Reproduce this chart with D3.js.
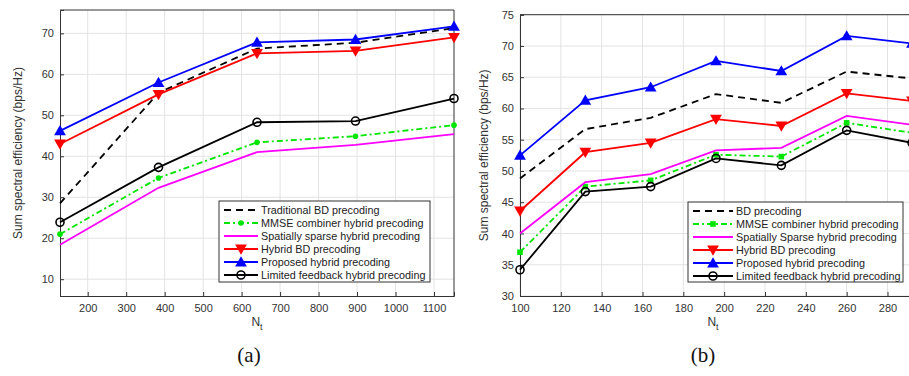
<!DOCTYPE html>
<html lang="en">
<head>
<meta charset="UTF-8">
<title>Sum spectral efficiency vs Nt</title>
<script src="https://cdnjs.cloudflare.com/ajax/libs/d3/7.8.5/d3.min.js"></script>
<style>
    body { margin: 0; background: #fff; }
    svg { display: block; font-family: "Liberation Sans", Arial, sans-serif; }
    .tick text { fill: #333; font-size: 11px; }
</style>
</head>
<body>
<svg id="chart" width="909" height="376"></svg>
<script>
// ---- panel (a) data ----
const ntA = [128, 384, 640, 896, 1152];
const tradBdA   = [28.5, 55.5, 66.3, 67.7, 71.3];
const mmseA     = [21.0, 34.7, 43.4, 44.9, 47.6];
const sparseA   = [18.4, 32.3, 41.0, 42.8, 45.4];
const hybridBdA = [43.0, 55.1, 65.1, 65.7, 69.0];
const proposedA = [46.2, 58.0, 67.8, 68.5, 71.7];
const limitedA  = [23.9, 37.3, 48.3, 48.6, 54.1];
const xTicksA = [200, 300, 400, 500, 600, 700, 800, 900, 1000, 1100];
const yTicksA = [10, 20, 30, 40, 50, 60, 70];

// ---- panel (b) data ----
const ntB = [100, 132, 164, 196, 228, 260, 292];
const bdB       = [48.8, 56.7, 58.5, 62.3, 60.9, 65.9, 64.8];
const mmseB     = [37.0, 47.5, 48.5, 52.6, 52.3, 57.7, 56.1];
const sparseB   = [40.0, 48.2, 49.5, 53.3, 53.7, 58.8, 57.4];
const hybridBdB = [43.6, 53.0, 54.5, 58.3, 57.2, 62.4, 61.2];
const proposedB = [52.5, 61.3, 63.4, 67.6, 66.0, 71.6, 70.4];
const limitedB  = [34.2, 46.7, 47.5, 52.0, 50.9, 56.5, 54.5];
const xTicksB = [100, 120, 140, 160, 180, 200, 220, 240, 260, 280];
const yTicksB = [30, 35, 40, 45, 50, 55, 60, 65, 70, 75];

const styles = {
    trad:     { color: "#000", dash: "7,5", marker: null },
    mmse:     { color: "#00e600", dash: "6,3,2,3", marker: "dot" },
    sparse:   { color: "#ff00ff", dash: null, marker: null },
    hybrid:   { color: "#ff0000", dash: null, marker: "down" },
    proposed: { color: "#0000ff", dash: null, marker: "up" },
    limited:  { color: "#000", dash: null, marker: "circle" }
};

const svg = d3.select("#chart");

function drawMarker(g, type, x, y, color) {
    if (type === "up") {
        g.append("path").attr("d", d3.symbol(d3.symbolTriangle, 60)())
            .attr("transform", `translate(${x},${y + 1})`).attr("fill", color);
    } else if (type === "down") {
        g.append("path").attr("d", d3.symbol(d3.symbolTriangle, 60)())
            .attr("transform", `translate(${x},${y - 1}) rotate(180)`).attr("fill", color);
    } else if (type === "circle") {
        g.append("circle").attr("cx", x).attr("cy", y).attr("r", 4)
            .attr("fill", "none").attr("stroke", color).attr("stroke-width", 1.6);
    } else if (type === "dot") {
        g.append("circle").attr("cx", x).attr("cy", y).attr("r", 2.8).attr("fill", color);
    } else if (type === "square") {
        g.append("rect").attr("x", x - 2.8).attr("y", y - 2.8).attr("width", 5.6).attr("height", 5.6).attr("fill", color);
    }
}

function drawPanel(p) {
    const x = d3.scaleLinear().domain(p.xDomain).range([p.left, p.right]);
    const y = d3.scaleLinear().domain(p.yDomain).range([p.bottom, p.top]);
    const g = svg.append("g");

    // grid
    g.append("g").selectAll("line").data(p.xTicks).join("line")
        .attr("x1", d => x(d)).attr("x2", d => x(d))
        .attr("y1", p.top).attr("y2", p.bottom)
        .attr("stroke", "#e3e3e3").attr("stroke-width", 1);
    g.append("g").selectAll("line").data(p.yTicks).join("line")
        .attr("x1", p.left).attr("x2", p.right)
        .attr("y1", d => y(d)).attr("y2", d => y(d))
        .attr("stroke", "#e3e3e3").attr("stroke-width", 1);

    // axes
    const xAxis = g.append("g").attr("transform", `translate(0,${p.bottom})`)
        .call(d3.axisBottom(x).tickValues(p.xTicks).tickFormat(d3.format("d")).tickSize(-4).tickPadding(8));
    const yAxis = g.append("g").attr("transform", `translate(${p.left},0)`)
        .call(d3.axisLeft(y).tickValues(p.yTicks).tickFormat(d3.format("d")).tickSize(-4).tickPadding(6));
    [xAxis, yAxis].forEach(a => {
        a.select(".domain").attr("stroke", "#333");
        a.selectAll(".tick line").attr("stroke", "#333");
    });
    // box top / right
    g.append("line").attr("x1", p.left).attr("x2", p.right).attr("y1", p.top).attr("y2", p.top)
        .attr("stroke", "#333");
    g.append("line").attr("x1", p.right).attr("x2", p.right).attr("y1", p.top).attr("y2", p.bottom)
        .attr("stroke", "#333");

    // series
    const line = d3.line().x((d, i) => x(p.nt[i])).y(d => y(d));
    p.series.forEach(s => {
        const st = styles[s.key];
        g.append("path").datum(s.values).attr("d", (d) => line(d))
            .attr("fill", "none").attr("stroke", st.color).attr("stroke-width", 1.8)
            .attr("stroke-dasharray", st.dash);
        const mk = s.key === "mmse" ? p.mmseMarker : st.marker;
        if (mk) s.values.forEach((v, i) => drawMarker(g, mk, x(p.nt[i]), y(v), st.color));
    });

    // legend
    const lg = g.append("g");
    lg.append("rect").attr("x", p.legend.x).attr("y", p.legend.y)
        .attr("width", p.legend.w).attr("height", p.legend.h)
        .attr("fill", "#fff").attr("stroke", "#333").attr("stroke-width", 1);
    p.series.forEach((s, i) => {
        const st = styles[s.key];
        const ry = p.legend.y + 9 + i * 13;
        const lx0 = p.legend.x + 5, lx1 = p.legend.x + p.legend.lineW;
        lg.append("line").attr("x1", lx0).attr("x2", lx1).attr("y1", ry).attr("y2", ry)
            .attr("stroke", st.color).attr("stroke-width", 1.8).attr("stroke-dasharray", st.dash);
        const mk = s.key === "mmse" ? p.mmseMarker : st.marker;
        if (mk) drawMarker(lg, mk, (lx0 + lx1) / 2, ry, st.color);
        lg.append("text").attr("x", lx1 + 3).attr("y", ry + 4)
            .attr("font-size", 10.8).attr("fill", "#222").text(s.label);
    });

    // y label
    g.append("text").attr("transform", `translate(${p.yLabelX},${(p.top + p.bottom) / 2}) rotate(-90)`)
        .attr("text-anchor", "middle").attr("font-size", 12).attr("fill", "#333")
        .text("Sum spectral efficiency (bps/Hz)");
    // x label N_t
    const xl = g.append("text").attr("x", p.xLabelX).attr("y", 326)
        .attr("text-anchor", "middle").attr("font-size", 12).attr("fill", "#333");
    xl.append("tspan").text("N");
    xl.append("tspan").attr("font-size", 9).attr("dy", 4).text("t");
    // caption
    svg.append("text").attr("x", p.captionX).attr("y", 362).attr("text-anchor", "middle")
        .attr("font-family", "'Liberation Serif', 'DejaVu Serif', serif")
        .attr("font-size", 21).attr("fill", "#111").text(p.caption);
}

drawPanel({
    nt: ntA, xDomain: [128, 1152], yDomain: [5.9, 75.7],
    left: 60, right: 454, top: 10, bottom: 296,
    xTicks: xTicksA, yTicks: yTicksA, mmseMarker: "dot",
    series: [
        { key: "trad", values: tradBdA, label: "Traditional BD precoding" },
        { key: "mmse", values: mmseA, label: "MMSE combiner hybrid precoding" },
        { key: "sparse", values: sparseA, label: "Spatially sparse hybrid precoding" },
        { key: "hybrid", values: hybridBdA, label: "Hybrid BD precoding" },
        { key: "proposed", values: proposedA, label: "Proposed hybrid precoding" },
        { key: "limited", values: limitedA, label: "Limited feedback hybrid precoding" }
    ],
    legend: { x: 219, y: 201, w: 211, h: 81, lineW: 39 },
    yLabelX: 22, xLabelX: 257, captionX: 249, caption: "(a)"
});

drawPanel({
    nt: ntB, xDomain: [100, 292], yDomain: [30, 75],
    left: 520, right: 912, top: 14.7, bottom: 296,
    xTicks: xTicksB, yTicks: yTicksB, mmseMarker: "square",
    series: [
        { key: "trad", values: bdB, label: "BD precoding" },
        { key: "mmse", values: mmseB, label: "MMSE combiner hybrid precoding" },
        { key: "sparse", values: sparseB, label: "Spatially Sparse hybrid precoding" },
        { key: "hybrid", values: hybridBdB, label: "Hybrid BD precoding" },
        { key: "proposed", values: proposedB, label: "Proposed hybrid precoding" },
        { key: "limited", values: limitedB, label: "Limited feedback hybrid precoding" }
    ],
    legend: { x: 688, y: 202, w: 215, h: 80, lineW: 45 },
    yLabelX: 488, xLabelX: 713, captionX: 703, caption: "(b)"
});
</script>
</body>
</html>
